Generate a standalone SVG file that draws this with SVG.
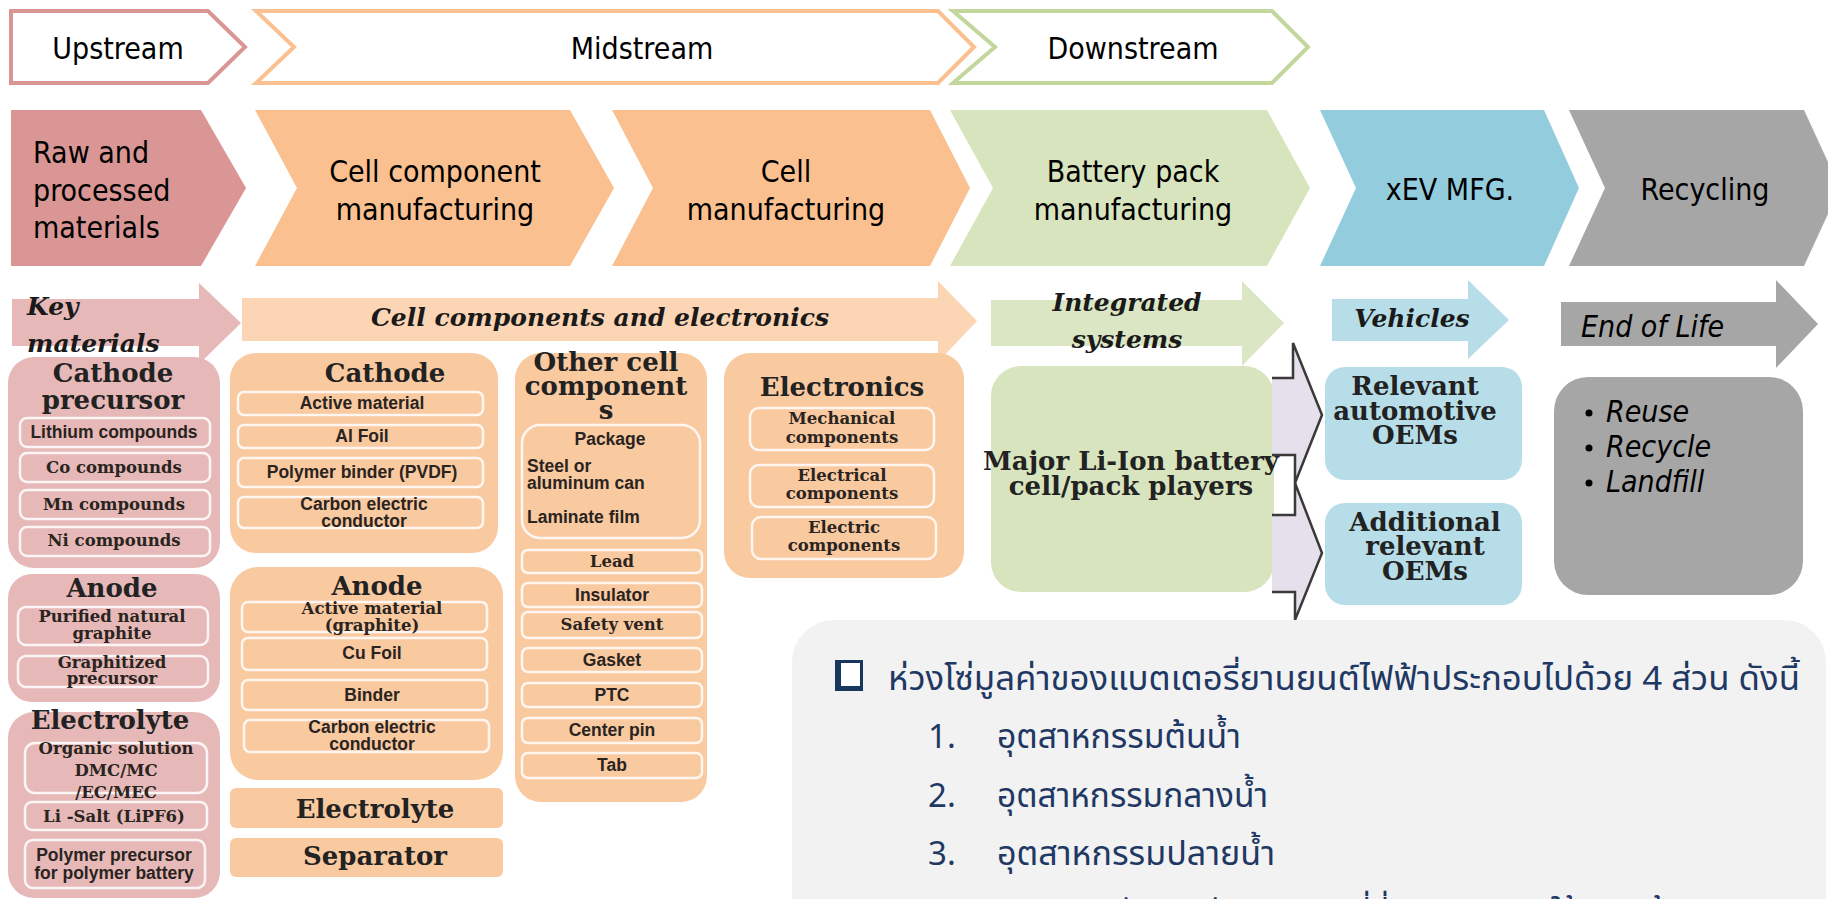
<svg xmlns="http://www.w3.org/2000/svg" width="1828" height="899" viewBox="0 0 1828 899">
<style>
.tah{font-family:"DejaVu Sans Condensed","DejaVu Sans",sans-serif;fill:#000;font-size:30px}
.sec{font-family:"DejaVu Serif","Liberation Serif",serif;font-weight:bold;font-style:italic;font-size:25px;fill:#1a1a1a}
.ttl{font-family:"DejaVu Serif","Liberation Serif",serif;font-weight:bold;font-size:26px;fill:#222;text-anchor:middle}
.sf{font-family:"DejaVu Serif","Liberation Serif",serif;font-weight:bold;font-size:16.5px;fill:#2a2420;text-anchor:middle}
.ss{font-family:"Liberation Sans",Arial,sans-serif;font-weight:bold;font-size:17.5px;fill:#2a2420;text-anchor:middle}
.ssl{font-family:"Liberation Sans",Arial,sans-serif;font-weight:bold;font-size:17.5px;fill:#2a2420}
.sub{fill:none;stroke:#fff;stroke-width:2.5;stroke-opacity:.85}
.pink{fill:#e6b9b8}
.peach{fill:#f9c9a0}
.th{font-family:"Noto Sans Thai","Tahoma","Garuda","Loma","Noto Sans",sans-serif;font-size:33px;fill:#1f3864}
.ct{text-anchor:middle}
</style>

<!-- stream headers -->
<g id="upstream">
<path d="M11,11 L208,11 L245,47 L208,83 L11,83 Z" fill="#fff" stroke="#d99694" stroke-width="4"/>
<text class="tah ct" x="118" y="59">Upstream</text>
</g>
<g id="midstream">
<path d="M256,11 L938,11 L974,47 L938,83 L256,83 L294,47 Z" fill="#fff" stroke="#fac090" stroke-width="4"/>
<text class="tah ct" x="642" y="59">Midstream</text>
</g>
<g id="downstream">
<path d="M953,11 L1272,11 L1308,47 L1272,83 L953,83 L995,47 Z" fill="#fff" stroke="#c3d69b" stroke-width="4"/>
<text class="tah ct" x="1133" y="59">Downstream</text>
</g>

<!-- stage chevrons -->
<g id="stage-raw">
<path d="M11,110 L201,110 L246,188 L201,266 L11,266 Z" fill="#d99694"/>
<text class="tah" x="33" y="163">Raw and</text>
<text class="tah" x="33" y="201">processed</text>
<text class="tah" x="33" y="238">materials</text>
</g>
<g id="stage-cellcomp">
<path d="M255,110 L570,110 L614,188 L570,266 L255,266 L297,188 Z" fill="#fac090"/>
<text class="tah ct" x="435" y="182">Cell component</text>
<text class="tah ct" x="435" y="220">manufacturing</text>
</g>
<g id="stage-cell">
<path d="M612,110 L930,110 L970,188 L930,266 L612,266 L653,188 Z" fill="#fac090"/>
<text class="tah ct" x="786" y="182">Cell</text>
<text class="tah ct" x="786" y="220">manufacturing</text>
</g>
<g id="stage-pack">
<path d="M950,110 L1267,110 L1310,188 L1267,266 L950,266 L993,188 Z" fill="#d7e4bd"/>
<text class="tah ct" x="1133" y="182">Battery pack</text>
<text class="tah ct" x="1133" y="220">manufacturing</text>
</g>
<g id="stage-xev">
<path d="M1320,110 L1544,110 L1579,188 L1544,266 L1320,266 L1356,188 Z" fill="#93cddd"/>
<text class="tah ct" x="1450" y="200">xEV MFG.</text>
</g>
<g id="stage-recycling">
<path d="M1569,110 L1804,110 L1840,188 L1804,266 L1569,266 L1605,188 Z" fill="#a6a6a6"/>
<text class="tah ct" x="1705" y="200">Recycling</text>
</g>

<!-- section arrows -->
<g id="sec-key">
<path d="M12,299 L199,299 L199,283 L241,323 L199,364 L199,346 L12,346 Z" fill="#e6b9b8"/>
<text class="sec" x="27" y="315" font-size="26">Key</text>
<text class="sec" x="27" y="352" font-size="26">materials</text>
</g>
<g id="sec-cellcomp">
<path d="M242,298 L938,298 L938,281 L977,321 L938,362 L938,341 L242,341 Z" fill="#fcd5b5"/>
<text class="sec ct" x="600" y="326" font-size="23.5">Cell components and electronics</text>
</g>
<g id="sec-integrated">
<path d="M991,300 L1242,300 L1242,281 L1284,323 L1242,366 L1242,346 L991,346 Z" fill="#dbe6c4"/>
<text class="sec ct" x="1127" y="311">Integrated</text>
<text class="sec ct" x="1127" y="348">systems</text>
</g>
<g id="sec-vehicles">
<path d="M1332,299 L1468,299 L1468,280 L1509,320 L1468,359 L1468,341 L1332,341 Z" fill="#b7dee8"/>
<text class="sec ct" x="1412" y="327" font-size="23">Vehicles</text>
</g>
<g id="sec-eol">
<path d="M1561,302 L1776,302 L1776,280 L1818,324 L1776,368 L1776,346 L1561,346 Z" fill="#a6a6a6"/>
<text class="tah" x="1581" y="337" font-style="italic" font-size="28">End of Life</text>
</g>

<!-- key materials column -->
<g id="km-cathode">
<rect class="pink" x="8" y="357" width="212" height="211" rx="26"/>
<text class="ttl" x="113" y="382">Cathode</text>
<text class="ttl" x="113" y="409">precursor</text>
<rect class="sub" x="20" y="418" width="190" height="29" rx="7"/>
<text class="ss" x="114" y="438" font-size="18">Lithium compounds</text>
<rect class="sub" x="20" y="453" width="190" height="29" rx="7"/>
<text class="sf" x="114" y="473" font-size="17">Co compounds</text>
<rect class="sub" x="20" y="490" width="190" height="29" rx="7"/>
<text class="sf" x="114" y="510" font-size="17">Mn compounds</text>
<rect class="sub" x="20" y="527" width="190" height="29" rx="7"/>
<text class="sf" x="114" y="546" font-size="17">Ni compounds</text>
</g>
<g id="km-anode">
<rect class="pink" x="8" y="574" width="212" height="128" rx="24"/>
<text class="ttl" x="112" y="597" font-size="27">Anode</text>
<rect class="sub" x="18" y="607" width="190" height="38" rx="8"/>
<text class="sf" x="112" y="622">Purified  natural</text>
<text class="sf" x="112" y="639">graphite</text>
<rect class="sub" x="18" y="656" width="190" height="31" rx="8"/>
<text class="sf" x="112" y="668">Graphitized</text>
<text class="sf" x="112" y="684">precursor</text>
</g>
<g id="km-electrolyte">
<rect class="pink" x="8" y="712" width="212" height="186" rx="26"/>
<text class="ttl" x="110" y="729" font-size="28">Electrolyte</text>
<rect class="sub" x="25" y="743" width="182" height="50" rx="10"/>
<text class="sf" x="116" y="754">Organic solution</text>
<text class="sf" x="116" y="776">DMC/MC</text>
<text class="sf" x="116" y="798">/EC/MEC</text>
<rect class="sub" x="25" y="802" width="182" height="28" rx="7"/>
<text class="sf" x="114" y="822">Li -Salt (LiPF6)</text>
<rect class="sub" x="25" y="840" width="180" height="48" rx="8"/>
<text class="ss" x="114" y="861">Polymer precursor</text>
<text class="ss" x="114" y="879">for polymer battery</text>
</g>

<!-- cell components column -->
<g id="cc-cathode">
<rect class="peach" x="230" y="353" width="268" height="200" rx="26"/>
<text class="ttl" x="385" y="382">Cathode</text>
<rect class="sub" x="238" y="392" width="245" height="23" rx="6"/>
<text class="ss" x="362" y="409">Active material</text>
<rect class="sub" x="238" y="425" width="245" height="23" rx="6"/>
<text class="ss" x="362" y="442">Al Foil</text>
<rect class="sub" x="238" y="458" width="245" height="29" rx="6"/>
<text class="ss" x="362" y="478">Polymer binder (PVDF)</text>
<rect class="sub" x="238" y="497" width="245" height="31" rx="6"/>
<text class="ss" x="364" y="510" font-size="16.5">Carbon electric</text>
<text class="ss" x="364" y="527" font-size="16.5">conductor</text>
</g>
<g id="cc-anode">
<rect class="peach" x="230" y="567" width="273" height="213" rx="28"/>
<text class="ttl" x="377" y="595" font-size="27">Anode</text>
<rect class="sub" x="242" y="602" width="245" height="30" rx="6"/>
<text class="sf" x="372" y="614">Active material</text>
<text class="sf" x="372" y="631">(graphite)</text>
<rect class="sub" x="242" y="638" width="245" height="32" rx="6"/>
<text class="ss" x="372" y="659">Cu Foil</text>
<rect class="sub" x="242" y="680" width="245" height="30" rx="6"/>
<text class="ss" x="372" y="701">Binder</text>
<rect class="sub" x="244" y="720" width="245" height="32" rx="6"/>
<text class="ss" x="372" y="733" font-size="16.5">Carbon electric</text>
<text class="ss" x="372" y="750" font-size="16.5">conductor</text>
</g>
<g id="cc-electrolyte">
<rect class="peach" x="230" y="788" width="273" height="40" rx="6"/>
<text class="ttl" x="375" y="818">Electrolyte</text>
</g>
<g id="cc-separator">
<rect class="peach" x="230" y="838" width="273" height="39" rx="6"/>
<text class="ttl" x="375" y="865">Separator</text>
</g>
<g id="cc-other">
<rect class="peach" x="515" y="353" width="192" height="449" rx="26"/>
<text class="ttl" x="606" y="371" font-size="24.5">Other cell</text>
<text class="ttl" x="606" y="395" font-size="24.5">component</text>
<text class="ttl" x="606" y="419" font-size="24.5">s</text>
<rect class="sub" x="522" y="425" width="178" height="113" rx="18"/>
<text class="ss" x="610" y="445">Package</text>
<text class="ssl" x="527" y="472">Steel  or</text>
<text class="ssl" x="527" y="489">aluminum can</text>
<text class="ssl" x="527" y="523">Laminate film</text>
<rect class="sub" x="522" y="550" width="180" height="23" rx="6"/>
<text class="sf" x="612" y="567" font-size="17">Lead</text>
<rect class="sub" x="522" y="583" width="180" height="24" rx="6"/>
<text class="ss" x="612" y="601">Insulator</text>
<rect class="sub" x="522" y="612" width="180" height="26" rx="6"/>
<text class="sf" x="612" y="630" font-size="17">Safety vent</text>
<rect class="sub" x="522" y="648" width="180" height="24" rx="6"/>
<text class="ss" x="612" y="666">Gasket</text>
<rect class="sub" x="522" y="683" width="180" height="24" rx="6"/>
<text class="ss" x="612" y="701">PTC</text>
<rect class="sub" x="522" y="718" width="180" height="25" rx="6"/>
<text class="ss" x="612" y="736">Center pin</text>
<rect class="sub" x="522" y="753" width="180" height="25" rx="6"/>
<text class="ss" x="612" y="771">Tab</text>
</g>
<g id="cc-electronics">
<rect class="peach" x="724" y="353" width="240" height="225" rx="26"/>
<text class="ttl" x="842" y="396">Electronics</text>
<rect class="sub" x="750" y="408" width="184" height="42" rx="9"/>
<text class="sf" x="842" y="424">Mechanical</text>
<text class="sf" x="842" y="443">components</text>
<rect class="sub" x="750" y="465" width="184" height="42" rx="9"/>
<text class="sf" x="842" y="481">Electrical</text>
<text class="sf" x="842" y="499">components</text>
<rect class="sub" x="752" y="517" width="184" height="42" rx="9"/>
<text class="sf" x="844" y="533">Electric</text>
<text class="sf" x="844" y="551">components</text>
</g>

<!-- integrated systems -->
<g id="players">
<rect x="991" y="366" width="283" height="226" rx="30" fill="#d7e4bd"/>
<text class="ttl" x="1131" y="470" font-size="24">Major Li-Ion battery</text>
<text class="ttl" x="1131" y="495" font-size="24">cell/pack players</text>
</g>

<g id="connectors">
<path d="M1272,378 L1293,378 L1293,343 L1322,415 L1295,483 L1295,455 L1272,455 Z" fill="#e6e0ec"/>
<path d="M1272,378 L1293,378 L1293,343 L1322,415 L1295,483 L1295,455 L1272,455" fill="none" stroke="#3a3a3a" stroke-width="2.5"/>
<path d="M1272,515 L1295,515 L1295,483 L1322,553 L1295,620 L1295,592 L1272,592 Z" fill="#e6e0ec"/>
<path d="M1272,515 L1295,515 L1295,483 L1322,553 L1295,620 L1295,592 L1272,592" fill="none" stroke="#3a3a3a" stroke-width="2.5"/>
</g>

<!-- vehicles -->
<g id="oems">
<rect x="1325" y="367" width="197" height="113" rx="20" fill="#b7dee8"/>
<text class="ttl" x="1415" y="395" font-size="25">Relevant</text>
<text class="ttl" x="1415" y="420" font-size="25">automotive</text>
<text class="ttl" x="1415" y="444" font-size="25">OEMs</text>
</g>
<g id="additional-oems">
<rect x="1325" y="503" width="197" height="102" rx="20" fill="#b7dee8"/>
<text class="ttl" x="1425" y="531" font-size="24.5">Additional</text>
<text class="ttl" x="1425" y="555" font-size="24.5">relevant</text>
<text class="ttl" x="1425" y="580" font-size="24.5">OEMs</text>
</g>

<!-- end of life -->
<g id="eol">
<rect x="1554" y="377" width="249" height="218" rx="34" fill="#a6a6a6"/>
<circle cx="1589" cy="413" r="3.5" fill="#000"/>
<text class="tah" x="1606" y="422" font-style="italic" font-size="27">Reuse</text>
<circle cx="1589" cy="448" r="3.5" fill="#000"/>
<text class="tah" x="1606" y="457" font-style="italic" font-size="27">Recycle</text>
<circle cx="1589" cy="483" r="3.5" fill="#000"/>
<text class="tah" x="1606" y="492" font-style="italic" font-size="27">Landfill</text>
</g>

<!-- Thai note -->
<g id="note">
<rect x="792" y="620" width="1034" height="320" rx="42" fill="#f2f2f2"/>
<rect x="835" y="660" width="28" height="31" fill="#17375e"/>
<rect x="841" y="663" width="19" height="23" fill="#fff"/>
<text class="th" x="888" y="690" textLength="912" lengthAdjust="spacingAndGlyphs">ห่วงโซ่มูลค่าของแบตเตอรี่ยานยนต์ไฟฟ้าประกอบไปด้วย 4 ส่วน ดังนี้</text>
<text class="th" x="928" y="748">1.</text>
<text class="th" x="997" y="748" textLength="244" lengthAdjust="spacingAndGlyphs">อุตสาหกรรมต้นน้ำ</text>
<text class="th" x="928" y="807">2.</text>
<text class="th" x="997" y="807" textLength="271" lengthAdjust="spacingAndGlyphs">อุตสาหกรรมกลางน้ำ</text>
<text class="th" x="928" y="865">3.</text>
<text class="th" x="997" y="865" textLength="278" lengthAdjust="spacingAndGlyphs">อุตสาหกรรมปลายน้ำ</text>
<text class="th" x="997" y="924">ธุรกิจการจัดการกับแบตเตอรี่ที่หมดอายุการใช้งานแล้ว</text>
</g>
</svg>
